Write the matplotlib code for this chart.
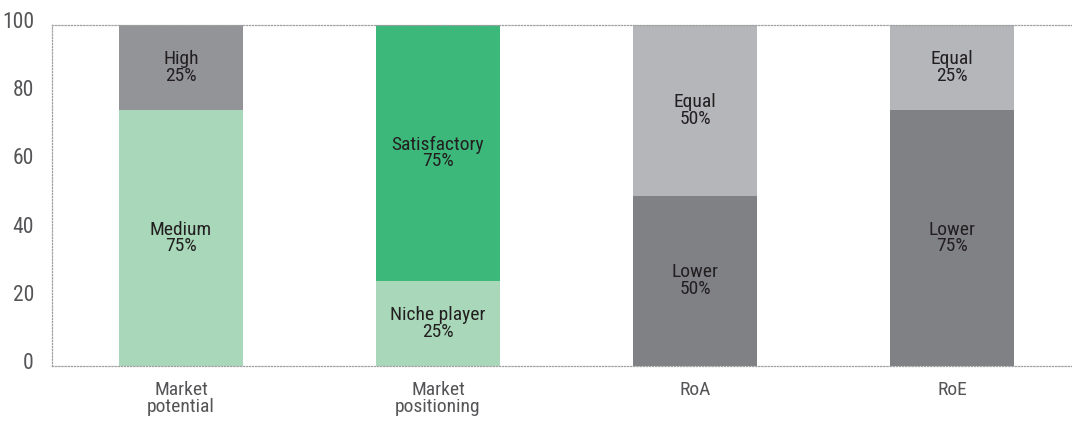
import matplotlib
matplotlib.use("Agg")
import matplotlib.pyplot as plt
from matplotlib import font_manager
from matplotlib.transforms import ScaledTranslation

names = {f.name for f in font_manager.fontManager.ttflist}
fam = [n for n in ["Liberation Sans Narrow", "Roboto Condensed", "Open Sans Condensed"] if n in names] + ["DejaVu Sans"]
plt.rcParams['font.family'] = fam

categories = ["Market\npotential", "Market\npositioning", "RoA", "RoE"]
bottom_labels = ["Medium", "Niche player", "Lower", "Lower"]
bottom_values = [75, 25, 50, 75]
top_labels = ["High", "Satisfactory", "Equal", "Equal"]
top_values = [25, 75, 50, 25]
bottom_colors = ["#a8d8b9", "#a8d8b9", "#808185", "#808185"]
top_colors = ["#939498", "#3bb87a", "#b5b6ba", "#b5b6ba"]
yticks = [0, 20, 40, 60, 80, 100]

fig = plt.figure(figsize=(10.72, 4.21), dpi=100)
ax = fig.add_axes([52/1072, 1-366/421, 1-52/1072, 341/421])

x = list(range(len(categories)))
width = 124/257
ax.bar(x, bottom_values, width=width, color=bottom_colors, zorder=2)
ax.bar(x, top_values, width=width, bottom=bottom_values, color=top_colors, zorder=2)

for i in x:
    ax.text(i, bottom_values[i]/2, f"{bottom_labels[i]}\n{bottom_values[i]}%",
            ha="center", va="center", fontsize=14, color="#231f20", linespacing=0.9, zorder=3)
    ax.text(i, bottom_values[i] + top_values[i]/2, f"{top_labels[i]}\n{top_values[i]}%",
            ha="center", va="center", fontsize=14, color="#231f20", linespacing=0.9, zorder=3)

ax.set_xlim(-129/257, (1072-181)/257)
ax.set_ylim(0, 100)
ax.set_yticks(yticks)
ax.set_yticklabels([str(v) for v in yticks], fontsize=15.5, color="#555558")
ax.set_xticks(x)
ax.set_xticklabels(categories, fontsize=14, color="#555558", linespacing=0.9)
ax.tick_params(axis="both", length=0)
ax.tick_params(axis="y", pad=13)
ax.tick_params(axis="x", pad=11)
shift = ScaledTranslation(0, 5/100, fig.dpi_scale_trans)
for lab in ax.get_yticklabels():
    lab.set_transform(lab.get_transform() + shift)

for s in ["left", "top", "bottom"]:
    ax.spines[s].set_linestyle((0, (1, 1.5)))
    ax.spines[s].set_color("#a0a0a2")
    ax.spines[s].set_linewidth(0.9)
ax.spines["right"].set_visible(False)

fig.savefig("out.png", dpi=100)
